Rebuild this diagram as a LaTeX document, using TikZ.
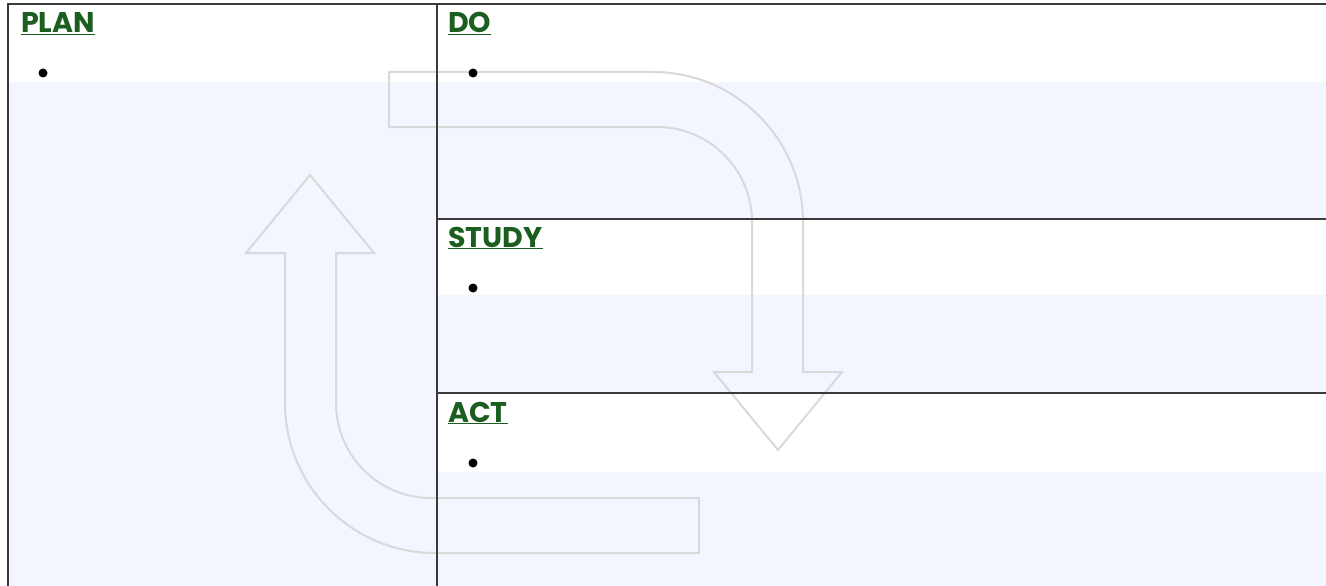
\documentclass[tikz,border=0pt]{standalone}
\usepackage{fontspec}
\newfontfamily\hfont{Poppins}
\definecolor{panelfill}{HTML}{F3F6FE}
\definecolor{gridline}{HTML}{3A3A3A}
\definecolor{arrowline}{HTML}{D9D9D9}
\definecolor{headgreen}{HTML}{1B5E20}
\tikzset{
  panel/.style={fill=panelfill, draw=none},
  grid/.style={draw=gridline, line width=1.5pt},
  bigarrow/.style={draw=arrowline, line width=2pt, line join=miter},
  header/.style={anchor=base west, inner sep=0pt, text=headgreen, font=\hfont\bfseries\fontsize{28.5}{32}\selectfont},
  bulletdot/.style={circle, fill=black, inner sep=0pt, minimum size=9pt},
}
\begin{document}
\begin{tikzpicture}[x=1pt,y=-1pt]
\useasboundingbox (0,0) rectangle (1326,586);
% fills
\fill[panel] (9,82) rectangle (437,586);
\fill[panel] (437,82) rectangle (1326,219);
\fill[panel] (437,295) rectangle (1326,393);
\fill[panel] (437,472) rectangle (1326,586);
% arrows
\def\arrowpath{(389,72) -- (653,72) .. controls (735.8,72) and (803,139.2) .. (803,222) -- (803,372) -- (842,372) -- (778,450) -- (714,372) -- (752,372) -- (752,222) .. controls (752,169.5) and (709.5,127) .. (657,127) -- (389,127) -- cycle}
\draw[bigarrow] \arrowpath;
\draw[bigarrow, rotate around={180:(544,312.5)}] \arrowpath;
% grid lines
\draw[grid] (8,586) -- (8,4) -- (1326,4);
\draw[grid] (437,4) -- (437,586);
\draw[grid] (437,219) -- (1326,219);
\draw[grid] (437,393) -- (1326,393);
% headers
\node[header] (plan) at (21,33) {\underline{PLAN}};
\node[header] (do) at (448,33) {\underline{DO}};
\node[header] (study) at (448,247) {\underline{STUDY}};
\node[header] (act) at (448,422) {\underline{ACT}};
% bullets
\node[bulletdot] (b1) at (43,73) {};
\node[bulletdot] (b2) at (473,73) {};
\node[bulletdot] (b3) at (473,288) {};
\node[bulletdot] (b4) at (473,463) {};
\end{tikzpicture}
\end{document}
